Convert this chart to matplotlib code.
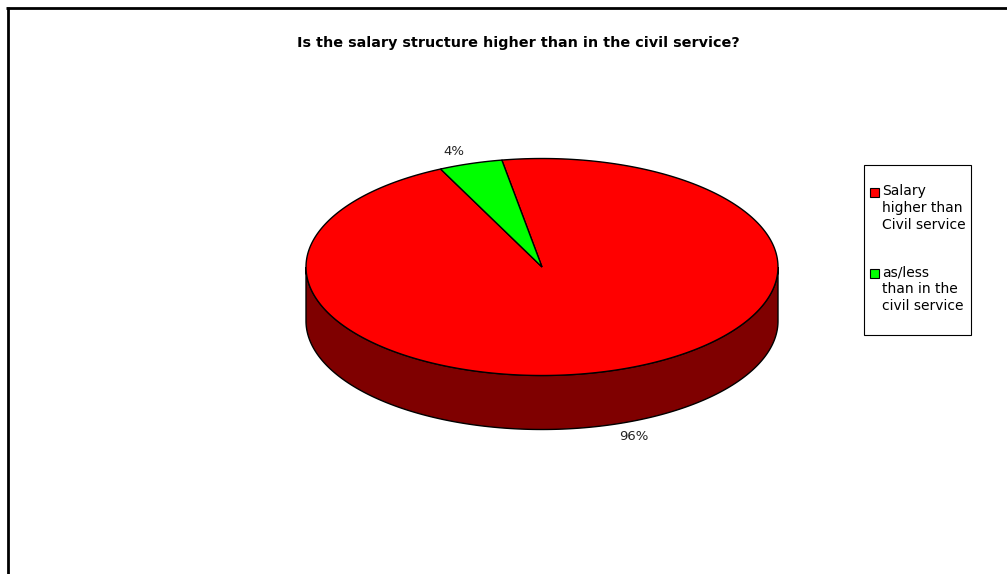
import numpy as np
import matplotlib
matplotlib.use('Agg')
import matplotlib.pyplot as plt
from matplotlib.patches import Polygon, Rectangle

# survey answers (counts), drawn as a 3D pie like the Excel original
categories = ['Salary\nhigher than\nCivil service', 'as/less\nthan in the\ncivil service']
counts = [22, 1]
colors = ['#ff0000', '#00ff00']
side_colors = ['#7f0000', '#007f00']
title = 'Is the salary structure higher than in the civil service?'

plt.rcParams['font.family'] = ['DejaVu Sans']

fig = plt.figure(figsize=(10.07, 5.74), dpi=100)
ax = fig.add_axes([0, 0, 1, 1])
ax.set_xlim(0, 1007)
ax.set_ylim(574, 0)
ax.axis('off')

# pie geometry in pixels
cx, cy = 542, 267
rx, ry = 236, 108.5
depth = 54
start = -9.8  # degrees, clockwise from 12 o'clock


def pt(theta, dz=0.0):
    t = np.radians(theta)
    return cx + rx * np.sin(t), cy - ry * np.cos(t) + dz


total = float(sum(counts))
angles = [start]
for c in counts:
    angles.append(angles[-1] + 360.0 * c / total)

# visible side walls (front half of the pie)
for i in range(len(counts)):
    a0, a1 = angles[i], angles[i + 1]
    for k in (-360, 0, 360):
        lo, hi = max(a0, 90 + k), min(a1, 270 + k)
        if lo >= hi:
            continue
        ts = np.linspace(lo, hi, 200)
        xs, ys = pt(ts)
        xb, yb = pt(ts[::-1], depth)
        poly = np.column_stack([np.r_[xs, xb], np.r_[ys, yb]])
        ax.add_patch(Polygon(poly, closed=True, facecolor=side_colors[i],
                             edgecolor='black', lw=1.0, zorder=2))

# top faces
for i in range(len(counts)):
    ts = np.linspace(angles[i], angles[i + 1], 300)
    xs, ys = pt(ts)
    poly = np.column_stack([np.r_[cx, xs], np.r_[cy, ys]])
    ax.add_patch(Polygon(poly, closed=True, facecolor=colors[i],
                         edgecolor='black', lw=1.0, zorder=3))

# percentage labels
for i in range(len(counts)):
    mid = (angles[i] + angles[i + 1]) / 2
    t = np.radians(mid)
    dz = depth if np.cos(t) < 0 else 0
    lx = cx + 1.15 * rx * np.sin(t) + (10 if np.cos(t) < 0 else -6)
    ly = cy - 1.12 * ry * np.cos(t) + dz
    ax.text(lx, ly, f'{100 * counts[i] / total:.0f}%', ha='center', va='center',
            fontsize=9.5, color='#222222', zorder=4)

ax.text(518, 43, title, ha='center', va='center', fontsize=10.4,
        fontweight='bold', zorder=4)

# legend box
ax.add_patch(Rectangle((864, 165), 107, 170, facecolor='white',
                       edgecolor='black', lw=0.8, zorder=3))
for i, lab in enumerate(categories):
    y0 = 192 + i * 81
    ax.add_patch(Rectangle((870, y0 - 4.5), 9, 9, facecolor=colors[i],
                           edgecolor='black', lw=0.8, zorder=4))
    ax.text(882, y0 - 7.5, lab, ha='left', va='top', fontsize=10,
            linespacing=1.27, zorder=4)

# chart frame (only top and left edges visible)
ax.plot([6, 1007], [8, 8], color='black', lw=2, solid_capstyle='butt')
ax.plot([8, 8], [7, 574], color='black', lw=2, solid_capstyle='butt')

fig.savefig('out.png', dpi=100)
